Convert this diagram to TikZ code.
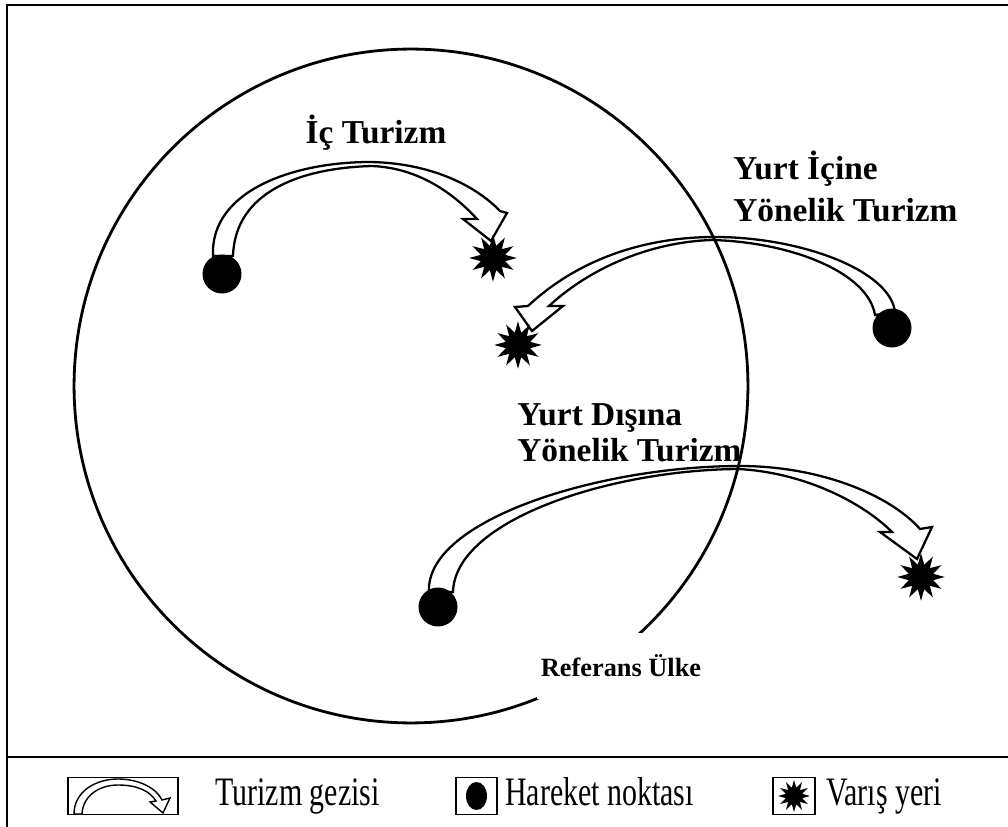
\documentclass[tikz,border=0pt]{standalone}
\usepackage{fontspec}
\setmainfont{Liberation Serif}
\newfontfamily\legendfont[FakeStretch=0.74]{Liberation Serif}
\usepackage{tikz}
\usetikzlibrary{shapes.geometric}

\begin{document}
\begin{tikzpicture}[x=0.02cm, y=-0.02cm,
 origin/.style={circle, fill=black, inner sep=0pt, minimum size=0.78cm},
 dest/.style={star, star points=12, star point ratio=1.9, fill=black, inner sep=0pt, minimum size=0.95cm},
 trip/.style={draw=black, fill=white, line width=1.3pt, line join=miter},
 lbl/.style={font=\bfseries\fontsize{19}{24}\selectfont, align=left, inner sep=0pt},
 key/.style={draw=black, line width=0.9pt, inner sep=0pt},
 keytxt/.style={font=\legendfont\fontsize{23}{26}\selectfont, anchor=base west, inner sep=0pt},
]
 \useasboundingbox (0,0) rectangle (1008,827);
 \clip (0,0) rectangle (1008,827);

 % frame and legend strip
 \draw[line width=1.4pt] (7,5) rectangle (1030,850);
 \draw[line width=1.4pt] (7,757) -- (1030,757);

 % trips
 \draw[trip] (213,256) .. controls (210,190) and (295,162) .. (370,162)
   .. controls (430,163) and (475,185) .. (500,211)
   -- (507,213) -- (491,241) -- (463,219) -- (477,219)
   .. controls (455,195) and (420,168) .. (372,166)
   .. controls (300,168) and (235,192) .. (233,256) -- cycle;
 \draw[trip] (895,312) .. controls (890,270) and (800,237) .. (715,237)
   .. controls (640,237) and (575,262) .. (528,306)
   -- (515,307) -- (532,331) -- (563,306) -- (549,306)
   .. controls (590,268) and (650,242) .. (712,240)
   .. controls (790,242) and (868,272) .. (875,315) -- cycle;
 \draw[trip] (429,592) .. controls (425,520) and (600,466) .. (740,466)
   .. controls (820,466) and (890,495) .. (920,529)
   -- (932,527) -- (917,559) -- (880,532) -- (892,532)
   .. controls (860,500) and (800,472) .. (738,469)
   .. controls (610,470) and (455,520) .. (453,592) -- cycle;

 % reference country
 \node[draw, circle, line width=1.6pt, inner sep=0pt, minimum size=13.48cm] (country) at (411,386) {};
 \node[fill=white, inner sep=0pt, minimum width=3.36cm, minimum height=1.34cm,
   font=\bfseries\fontsize{15}{18}\selectfont] (ref) at (621,666) {Referans Ülke};

 % departure points and destinations
 \node[origin] (d1) at (222,274) {};
 \node[dest] (s1) at (493,258) {};
 \node[origin] (d2) at (892,328) {};
 \node[dest] (s2) at (518,345) {};
 \node[origin] (d3) at (438,607) {};
 \node[dest] (s3) at (921,577) {};

 \node[lbl] (ic) at (376,133) {İç Turizm};
 \node[lbl, anchor=west] (yi) at (733,186) {Yurt İçine\\Yönelik Turizm};
 \node[lbl, anchor=west, font=\bfseries\fontsize{19}{20.5}\selectfont] (yd) at (517,433) {Yurt Dışına\\Yönelik Turizm};

 % legend
 \node[key, minimum width=2.2cm, minimum height=0.74cm] (k1) at (123,796) {};
 \draw[trip, line width=0.8pt] (74,814) .. controls (74,792) and (95,779) .. (118,779)
   .. controls (140,779) and (157,789) .. (162,800)
   -- (170,798) -- (163,813) -- (150,802) -- (156,801)
   .. controls (150,791) and (137,785) .. (118,785)
   .. controls (100,785) and (83,795) .. (82,814) -- cycle;
 \node[keytxt] (t1) at (215,805) {Turizm gezisi};
 \node[key, minimum width=0.82cm, minimum height=0.74cm] (k2) at (476.5,796) {};
 \node[ellipse, fill=black, inner sep=0pt, minimum width=0.42cm, minimum height=0.56cm] (kd) at (476.5,796) {};
 \node[keytxt] (t2) at (505,805) {Hareket noktası};
 \node[key, minimum width=0.84cm, minimum height=0.74cm] (k3) at (794,796) {};
 \node[dest, minimum size=0.64cm] (ks) at (794,796) {};
 \node[keytxt] (t3) at (826,805) {Varış yeri};
\end{tikzpicture}
\end{document}
